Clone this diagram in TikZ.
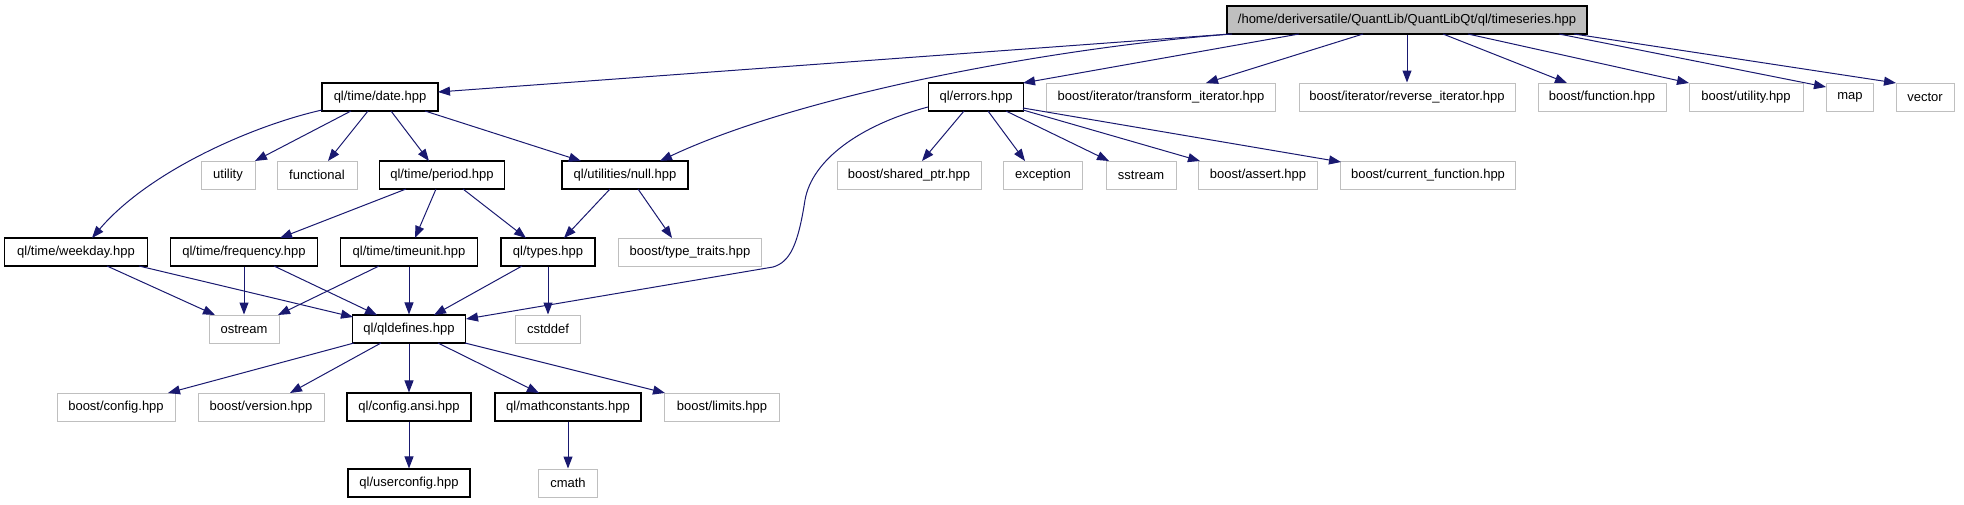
\documentclass[tikz,border=0pt]{standalone}
\usepackage{fontspec}
\setmainfont{Liberation Sans}
\usetikzlibrary{arrows.meta}
\definecolor{edgeblue}{HTML}{191970}
\definecolor{boxgray}{HTML}{BFBFBF}
\tikzset{
  base/.style={rectangle, minimum height=28pt, inner sep=0pt, fill=white, font=\fontsize{13}{15}\selectfont},
  intbox/.style={base, draw=black, line width=1.1pt},
  extbox/.style={base, draw=boxgray, line width=1pt},
  rootbox/.style={base, draw=black, fill=boxgray, line width=1.1pt},
  edge/.style={draw=edgeblue, line width=1pt, -{Triangle[length=12pt,width=9pt]}}
}
\begin{document}
\begin{tikzpicture}[x=1pt,y=-1pt]
\useasboundingbox (0,0) rectangle (1964,504);
% row 0
\node[rootbox, minimum width=360pt] (root) at (1407,20) {/home/deriversatile/QuantLib/QuantLibQt/ql/timeseries.hpp};
% row 1
\node[intbox, minimum width=116pt] (date) at (380,97) {ql/time/date.hpp};
\node[intbox, minimum width=95pt] (errors) at (976,97) {ql/errors.hpp};
\node[extbox, minimum width=229pt] (transform) at (1161,97) {boost/iterator/transform\_iterator.hpp};
\node[extbox, minimum width=216pt] (reverse) at (1407,97) {boost/iterator/reverse\_iterator.hpp};
\node[extbox, minimum width=128pt] (function) at (1602,97) {boost/function.hpp};
\node[extbox, minimum width=114pt] (butility) at (1746,97) {boost/utility.hpp};
\node[extbox, minimum width=47pt] (map) at (1850,97) {map};
\node[extbox, minimum width=58pt] (vector) at (1925,97) {vector};
% row 2
\node[extbox, minimum width=54pt] (utility) at (228,175) {utility};
\node[extbox, minimum width=80pt] (functional) at (317,175) {functional};
\node[intbox, minimum width=125pt] (period) at (442,175) {ql/time/period.hpp};
\node[intbox, minimum width=126pt] (null) at (625,175) {ql/utilities/null.hpp};
\node[extbox, minimum width=144pt] (sharedptr) at (909,175) {boost/shared\_ptr.hpp};
\node[extbox, minimum width=79pt] (exception) at (1043,175) {exception};
\node[extbox, minimum width=70pt] (sstream) at (1141,175) {sstream};
\node[extbox, minimum width=119pt] (assert) at (1258,175) {boost/assert.hpp};
\node[extbox, minimum width=175pt] (curfunc) at (1428,175) {boost/current\_function.hpp};
% row 3
\node[intbox, minimum width=143pt] (weekday) at (76,252) {ql/time/weekday.hpp};
\node[intbox, minimum width=147pt] (frequency) at (244,252) {ql/time/frequency.hpp};
\node[intbox, minimum width=137pt] (timeunit) at (409,252) {ql/time/timeunit.hpp};
\node[intbox, minimum width=94pt] (types) at (548,252) {ql/types.hpp};
\node[extbox, minimum width=143pt] (typetraits) at (690,252) {boost/type\_traits.hpp};
% row 4
\node[extbox, minimum width=70pt] (ostream) at (244,329) {ostream};
\node[intbox, minimum width=113pt] (qldefines) at (409,329) {ql/qldefines.hpp};
\node[extbox, minimum width=65pt] (cstddef) at (548,329) {cstddef};
% row 5
\node[extbox, minimum width=118pt] (config) at (116,407) {boost/config.hpp};
\node[extbox, minimum width=126pt] (version) at (261,407) {boost/version.hpp};
\node[intbox, minimum width=124pt] (configansi) at (409,407) {ql/config.ansi.hpp};
\node[intbox, minimum width=146pt] (mathconst) at (568,407) {ql/mathconstants.hpp};
\node[extbox, minimum width=115pt] (limits) at (722,407) {boost/limits.hpp};
% row 6
\node[intbox, minimum width=122pt] (userconfig) at (409,483) {ql/userconfig.hpp};
\node[extbox, minimum width=59pt] (cmath) at (568,483) {cmath};

% edges from root
\draw[edge] ([shift={(-177,14)}]root.center) -- ([shift={(58,-5)}]date.center);
\draw[edge] ([shift={(-175,14)}]root.center) .. controls (1050,48) and (800,95) .. ([shift={(35,-14)}]null.center);
\draw[edge] ([shift={(-108,14)}]root.center) -- ([shift={(47,-14)}]errors.center);
\draw[edge] ([shift={(-44,14)}]root.center) -- ([shift={(45,-14)}]transform.center);
\draw[edge] (root.south) -- (reverse.north);
\draw[edge] ([shift={(36,14)}]root.center) -- ([shift={(-35,-14)}]function.center);
\draw[edge] ([shift={(61,14)}]root.center) -- ([shift={(-57,-14)}]butility.center);
\draw[edge] ([shift={(152,14)}]root.center) -- ([shift={(-24,-10)}]map.center);
\draw[edge] ([shift={(167,14)}]root.center) -- ([shift={(-29,-14)}]vector.center);
% date
\draw[edge] ([shift={(-58,13)}]date.center) .. controls (255,125) and (150,170) .. ([shift={(16,-14)}]weekday.center);
\draw[edge] ([shift={(-29,14)}]date.center) -- ([shift={(27,-14)}]utility.center);
\draw[edge] ([shift={(-12,14)}]date.center) -- ([shift={(11,-14)}]functional.center);
\draw[edge] ([shift={(11,14)}]date.center) -- ([shift={(-13,-14)}]period.center);
\draw[edge] ([shift={(45,14)}]date.center) -- ([shift={(-44,-14)}]null.center);
% period, null
\draw[edge] ([shift={(-36,14)}]period.center) -- ([shift={(36,-14)}]frequency.center);
\draw[edge] ([shift={(-6,14)}]period.center) -- ([shift={(6,-14)}]timeunit.center);
\draw[edge] ([shift={(21,14)}]period.center) -- ([shift={(-22,-14)}]types.center);
\draw[edge] ([shift={(-15,14)}]null.center) -- ([shift={(16,-14)}]types.center);
\draw[edge] ([shift={(13,14)}]null.center) -- ([shift={(-18,-14)}]typetraits.center);
% errors
\draw[edge] ([shift={(-12,14)}]errors.center) -- ([shift={(13,-14)}]sharedptr.center);
\draw[edge] ([shift={(12,14)}]errors.center) -- ([shift={(-18,-14)}]exception.center);
\draw[edge] ([shift={(30,14)}]errors.center) -- ([shift={(-32,-14)}]sstream.center);
\draw[edge] ([shift={(47,13)}]errors.center) -- ([shift={(-58,-14)}]assert.center);
\draw[edge] ([shift={(47,11)}]errors.center) -- ([shift={(-87,-13)}]curfunc.center);
\draw[edge] ([shift={(-48,10)}]errors.center) .. controls (860,125) and (812,160) .. (805,200) .. controls (798,245) and (790,262) .. (773,267) -- ([shift={(57,-10)}]qldefines.center);
% row 3
\draw[edge] ([shift={(31,14)}]weekday.center) -- ([shift={(-29,-14)}]ostream.center);
\draw[edge] ([shift={(63,14)}]weekday.center) -- ([shift={(-56,-12)}]qldefines.center);
\draw[edge] (frequency.south) -- (ostream.north);
\draw[edge] ([shift={(30,14)}]frequency.center) -- ([shift={(-32,-14)}]qldefines.center);
\draw[edge] ([shift={(-30,14)}]timeunit.center) -- ([shift={(34,-14)}]ostream.center);
\draw[edge] (timeunit.south) -- (qldefines.north);
\draw[edge] ([shift={(-26,14)}]types.center) -- ([shift={(25,-14)}]qldefines.center);
\draw[edge] (types.south) -- (cstddef.north);
% qldefines
\draw[edge] ([shift={(-55,14)}]qldefines.center) -- ([shift={(52,-14)}]config.center);
\draw[edge] ([shift={(-28,14)}]qldefines.center) -- ([shift={(29,-14)}]version.center);
\draw[edge] (qldefines.south) -- (configansi.north);
\draw[edge] ([shift={(29,14)}]qldefines.center) -- ([shift={(-29,-14)}]mathconst.center);
\draw[edge] ([shift={(56,14)}]qldefines.center) -- ([shift={(-57,-14)}]limits.center);
\draw[edge] (configansi.south) -- (userconfig.north);
\draw[edge] (mathconst.south) -- (cmath.north);
\end{tikzpicture}
\end{document}
